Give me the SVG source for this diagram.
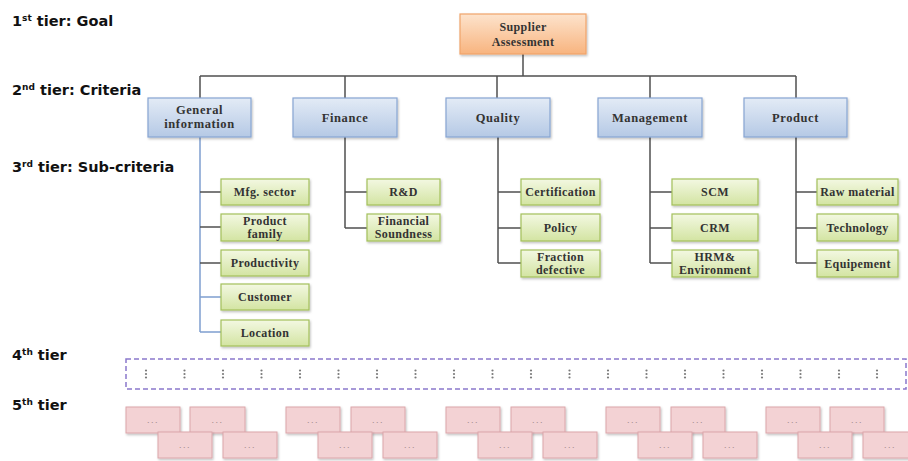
<svg xmlns="http://www.w3.org/2000/svg" width="908" height="461" viewBox="0 0 908 461">
<defs>
<linearGradient id="gOr" x1="0" y1="0" x2="0" y2="1"><stop offset="0" stop-color="#fde3cc"/><stop offset="1" stop-color="#f8b47f"/></linearGradient>
<linearGradient id="gBl" x1="0" y1="0" x2="0" y2="1"><stop offset="0" stop-color="#e3ebf6"/><stop offset="1" stop-color="#b5c9e5"/></linearGradient>
<linearGradient id="gGr" x1="0" y1="0" x2="0" y2="1"><stop offset="0" stop-color="#f3f8e2"/><stop offset="1" stop-color="#d3e4a2"/></linearGradient>
<filter id="sh" x="-10%" y="-10%" width="125%" height="140%"><feDropShadow dx="1" dy="1.5" stdDeviation="1.2" flood-color="#000" flood-opacity="0.25"/></filter>
<g id="vd" fill="#7a7a7a"><circle cx="0" cy="-3.5" r="1.1"/><circle cx="0" cy="0" r="1.1"/><circle cx="0" cy="3.5" r="1.1"/></g>
</defs>
<style>
.tier{font-family:"DejaVu Sans",sans-serif;font-weight:bold;font-size:14.5px;fill:#111}
.sup{font-size:9px}
.goal{fill:url(#gOr);stroke:#f0a46a;stroke-width:1.2;filter:url(#sh)}
.crit{fill:url(#gBl);stroke:#87a5d2;stroke-width:1.2;filter:url(#sh)}
.sub{fill:url(#gGr);stroke:#a3c05a;stroke-width:1.2;filter:url(#sh)}
.t5{fill:#f3d2d4;stroke:#dba6aa;stroke-width:1;filter:url(#sh)}
.lb{font-family:"Liberation Serif","Times New Roman",Times,serif;font-weight:bold;font-size:12px;fill:#333;text-anchor:middle;letter-spacing:0.4px}
.lc{font-family:"Liberation Serif","Times New Roman",Times,serif;font-weight:bold;font-size:12.5px;fill:#333;text-anchor:middle;letter-spacing:0.6px}
.dots{font-family:"Liberation Sans",sans-serif;font-size:9px;fill:#a08888;text-anchor:middle;letter-spacing:1.5px}
.ln{stroke:#505050;stroke-width:1.5;fill:none}
.lnb{stroke:#7f9fd0;stroke-width:1.5;fill:none}
</style>
<rect width="908" height="461" fill="#fff"/>

<g id="tier-labels">
<text class="tier" x="12" y="26">1<tspan class="sup" dy="-5">st</tspan><tspan dy="5"> tier: Goal</tspan></text>
<text class="tier" x="12" y="95">2<tspan class="sup" dy="-5">nd</tspan><tspan dy="5"> tier: Criteria</tspan></text>
<text class="tier" x="12" y="172">3<tspan class="sup" dy="-5">rd</tspan><tspan dy="5"> tier: Sub-criteria</tspan></text>
<text class="tier" x="12" y="360">4<tspan class="sup" dy="-5">th</tspan><tspan dy="5"> tier</tspan></text>
<text class="tier" x="12" y="410">5<tspan class="sup" dy="-5">th</tspan><tspan dy="5"> tier</tspan></text>
</g>

<g id="connectors">
<path class="ln" d="M523,54 V76 M200,76 H796 M200,76 V98 M345,76 V98 M497,76 V98 M650,76 V98 M796,76 V98"/>
<path class="lnb" d="M200,137 V332 M200,297 H221 M200,332 H221"/>
<path class="ln" d="M200,192 H221 M200,227 H221 M200,263 H221"/>
<path class="ln" d="M345,137 V228 M345,192 H367 M345,228 H367"/>
<path class="ln" d="M498,137 V263 M498,192 H521 M498,228 H521 M498,263 H521"/>
<path class="ln" d="M650,137 V263 M650,192 H672 M650,228 H672 M650,263 H672"/>
<path class="ln" d="M796,137 V263 M796,192 H817 M796,228 H817 M796,263 H817"/>
</g>

<g id="goal"><rect class="goal" x="460" y="14" width="126" height="40"/><text class="lb" x="523" y="31">Supplier</text><text class="lb" x="523" y="46">Assessment</text></g>

<g id="general-information"><rect class="crit" x="148" y="98" width="103" height="39"/><text class="lc" x="199.5" y="114">General</text><text class="lc" x="199.5" y="128">information</text></g>
<g id="finance"><rect class="crit" x="293" y="98" width="104" height="39"/><text class="lc" x="345" y="122">Finance</text></g>
<g id="quality"><rect class="crit" x="446" y="98" width="104" height="39"/><text class="lc" x="498" y="122">Quality</text></g>
<g id="management"><rect class="crit" x="598" y="98" width="104" height="39"/><text class="lc" x="650" y="122">Management</text></g>
<g id="product"><rect class="crit" x="744" y="98" width="103" height="39"/><text class="lc" x="795.5" y="122">Product</text></g>

<g id="mfg-sector"><rect class="sub" x="221" y="179" width="88" height="26"/><text class="lb" x="265" y="196">Mfg. sector</text></g>
<g id="product-family"><rect class="sub" x="221" y="214" width="88" height="27"/><text class="lb" x="265" y="225">Product</text><text class="lb" x="265" y="238">family</text></g>
<g id="productivity"><rect class="sub" x="221" y="250" width="88" height="26"/><text class="lb" x="265" y="267">Productivity</text></g>
<g id="customer"><rect class="sub" x="221" y="284" width="88" height="26"/><text class="lb" x="265" y="301">Customer</text></g>
<g id="location"><rect class="sub" x="221" y="320" width="88" height="26"/><text class="lb" x="265" y="337">Location</text></g>

<g id="rnd"><rect class="sub" x="367" y="179" width="73" height="26"/><text class="lb" x="403.5" y="196">R&amp;D</text></g>
<g id="financial-soundness"><rect class="sub" x="367" y="214" width="73" height="27"/><text class="lb" x="403.5" y="225">Financial</text><text class="lb" x="403.5" y="238">Soundness</text></g>

<g id="certification"><rect class="sub" x="521" y="179" width="79" height="26"/><text class="lb" x="560.5" y="196">Certification</text></g>
<g id="policy"><rect class="sub" x="521" y="214" width="79" height="27"/><text class="lb" x="560.5" y="232">Policy</text></g>
<g id="fraction-defective"><rect class="sub" x="521" y="250" width="79" height="27"/><text class="lb" x="560.5" y="261">Fraction</text><text class="lb" x="560.5" y="274">defective</text></g>

<g id="scm"><rect class="sub" x="672" y="179" width="86" height="26"/><text class="lb" x="715" y="196">SCM</text></g>
<g id="crm"><rect class="sub" x="672" y="214" width="86" height="27"/><text class="lb" x="715" y="232">CRM</text></g>
<g id="hrm-environment"><rect class="sub" x="672" y="250" width="86" height="27"/><text class="lb" x="715" y="261">HRM&amp;</text><text class="lb" x="715" y="274">Environment</text></g>

<g id="raw-material"><rect class="sub" x="817" y="179" width="81" height="26"/><text class="lb" x="857.5" y="196">Raw material</text></g>
<g id="technology"><rect class="sub" x="817" y="214" width="81" height="27"/><text class="lb" x="857.5" y="232">Technology</text></g>
<g id="equipement"><rect class="sub" x="817" y="250" width="81" height="27"/><text class="lb" x="857.5" y="268">Equipement</text></g>

<g id="tier4">
<rect x="126" y="359" width="780" height="30" fill="none" stroke="#8a78cc" stroke-width="1.5" stroke-dasharray="5,3"/>
<use href="#vd" x="146" y="374"/><use href="#vd" x="184.5" y="374"/><use href="#vd" x="223" y="374"/><use href="#vd" x="261.5" y="374"/><use href="#vd" x="300" y="374"/><use href="#vd" x="338.5" y="374"/><use href="#vd" x="377" y="374"/><use href="#vd" x="415.5" y="374"/><use href="#vd" x="454" y="374"/><use href="#vd" x="492.5" y="374"/><use href="#vd" x="531" y="374"/><use href="#vd" x="569.5" y="374"/><use href="#vd" x="608" y="374"/><use href="#vd" x="646.5" y="374"/><use href="#vd" x="685" y="374"/><use href="#vd" x="723.5" y="374"/><use href="#vd" x="762" y="374"/><use href="#vd" x="800.5" y="374"/><use href="#vd" x="839" y="374"/><use href="#vd" x="877" y="374"/>
</g>

<g id="tier5-group1">
<rect class="t5" x="126" y="407" width="54" height="26"/><text class="dots" x="153" y="423">...</text>
<rect class="t5" x="190" y="407" width="55" height="26"/><text class="dots" x="217.5" y="423">...</text>
<rect class="t5" x="158" y="432" width="54" height="26"/><text class="dots" x="185" y="448">...</text>
<rect class="t5" x="223" y="432" width="54" height="26"/><text class="dots" x="250" y="448">...</text>
</g>
<g id="tier5-group2">
<rect class="t5" x="286" y="407" width="54" height="26"/><text class="dots" x="313" y="423">...</text>
<rect class="t5" x="351" y="407" width="54" height="26"/><text class="dots" x="378" y="423">...</text>
<rect class="t5" x="318" y="432" width="54" height="26"/><text class="dots" x="345" y="448">...</text>
<rect class="t5" x="383" y="432" width="54" height="26"/><text class="dots" x="410" y="448">...</text>
</g>
<g id="tier5-group3">
<rect class="t5" x="446" y="407" width="54" height="26"/><text class="dots" x="473" y="423">...</text>
<rect class="t5" x="511" y="407" width="54" height="26"/><text class="dots" x="538" y="423">...</text>
<rect class="t5" x="478" y="432" width="54" height="26"/><text class="dots" x="505" y="448">...</text>
<rect class="t5" x="543" y="432" width="54" height="26"/><text class="dots" x="570" y="448">...</text>
</g>
<g id="tier5-group4">
<rect class="t5" x="606" y="407" width="54" height="26"/><text class="dots" x="633" y="423">...</text>
<rect class="t5" x="671" y="407" width="54" height="26"/><text class="dots" x="698" y="423">...</text>
<rect class="t5" x="638" y="432" width="54" height="26"/><text class="dots" x="665" y="448">...</text>
<rect class="t5" x="703" y="432" width="54" height="26"/><text class="dots" x="730" y="448">...</text>
</g>
<g id="tier5-group5">
<rect class="t5" x="766" y="407" width="54" height="26"/><text class="dots" x="793" y="423">...</text>
<rect class="t5" x="830" y="407" width="54" height="26"/><text class="dots" x="857" y="423">...</text>
<rect class="t5" x="798" y="432" width="54" height="26"/><text class="dots" x="825" y="448">...</text>
<rect class="t5" x="863" y="432" width="54" height="26"/><text class="dots" x="890" y="448">...</text>
</g>
</svg>
